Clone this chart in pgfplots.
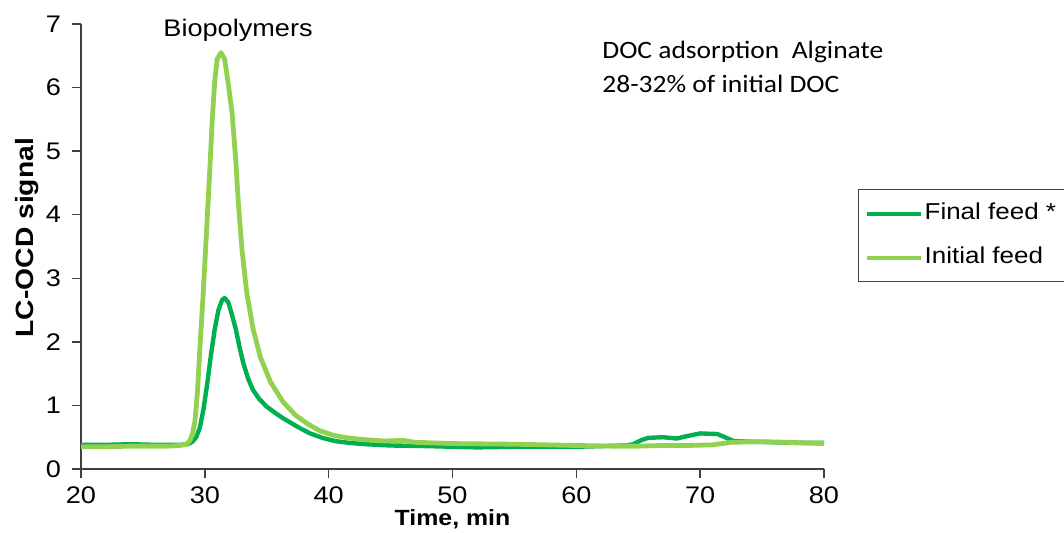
\documentclass[border=0pt]{standalone}
\usepackage{pgfplots}
\pgfplotsset{compat=1.18}
\usepackage{fontspec}
\setmainfont{Liberation Sans}[FakeStretch=1.13]
\newfontfamily\calib{Carlito}[FakeStretch=1.1]
\definecolor{dgreen}{HTML}{00B050}
\definecolor{lgreen}{HTML}{92D050}
\definecolor{axgray}{HTML}{404040}
\begin{document}
\begin{tikzpicture}
\begin{axis}[
  at={(40.5pt,31.5pt)}, anchor=south west,
  scale only axis, width=371.5pt, height=222.5pt,
  xmin=20, xmax=80, ymin=0, ymax=7,
  xtick={20,30,...,80}, ytick={0,1,...,7},
  axis x line=bottom, axis y line=left,
  axis line style={-, draw=axgray, line width=0.75pt},
  tick style={draw=axgray, line width=0.75pt},
  tick align=outside, major tick length=4.5pt,
  /pgf/number format/assume math mode=true,
  ticklabel style={font=\fontsize{12}{14}\selectfont},
  xticklabel style={yshift=-1pt},
  yticklabel style={xshift=-2pt},
  xlabel={\bfseries Time, min},
  xlabel style={font=\fontsize{11}{13}\selectfont, at={(axis description cs:0.5,-0.1265)}, anchor=base},
  ylabel={\bfseries LC-OCD signal},
  ylabel style={font=\fontsize{12.5}{14}\selectfont, at={(axis description cs:-0.0727,0.52)}, anchor=center},
  clip=false,
  legend style={at={(1.0458,0.629)}, anchor=north west, draw=axgray, line width=0.6pt,
    font=\fontsize{11.5}{13}\selectfont, inner xsep=3pt, inner ysep=4pt, row sep=6pt,
    nodes={text height=9pt, text depth=3pt, inner ysep=2pt, inner xsep=1pt}},
  legend cell align=left,
  legend image code/.code={\draw[#1, line width=2pt] (0pt,0pt) -- (27pt,0pt);},
]
\addplot[dgreen, line width=2.2pt, line join=round] coordinates {
(20,0.38) (22,0.38) (24,0.39) (26,0.38) (28,0.38) (28.6,0.39) (29.0,0.43) (29.3,0.5) (29.6,0.65) (29.9,0.95) (30.2,1.35) (30.5,1.8) (30.8,2.2) (31.1,2.5) (31.4,2.66) (31.6,2.69) (31.9,2.62) (32.2,2.42) (32.5,2.2) (32.8,1.92) (33.1,1.67) (33.5,1.42) (33.9,1.24) (34.4,1.1) (35.0,0.98) (35.7,0.88) (36.3,0.8) (37,0.72) (37.7,0.64) (38.5,0.56) (39.5,0.49) (40.5,0.44) (41.7,0.41) (43,0.39) (45,0.37) (48,0.36) (50,0.35) (52,0.34) (55,0.35) (58,0.35) (60,0.35) (62,0.36) (64,0.37) (64.6,0.39) (65.2,0.45) (65.8,0.49) (67,0.5) (68.1,0.48) (69,0.52) (70,0.56) (71.4,0.55) (72,0.50) (72.7,0.44) (74,0.43) (76,0.42) (78,0.41) (80,0.41)
};
\addlegendentry{Final feed *}
\addplot[lgreen, line width=2.4pt, line join=round] coordinates {
(20,0.35) (22,0.35) (24,0.36) (26,0.36) (27,0.36) (28,0.37) (28.5,0.39) (28.8,0.45) (29.0,0.55) (29.2,0.75) (29.4,1.2) (29.6,1.9) (29.85,2.7) (30.1,3.6) (30.4,4.7) (30.6,5.5) (30.8,6.1) (31.0,6.45) (31.3,6.55) (31.6,6.45) (31.9,6.05) (32.2,5.6) (32.5,4.85) (32.7,4.2) (33.0,3.45) (33.4,2.75) (33.9,2.2) (34.5,1.75) (35.3,1.37) (36.3,1.06) (37.3,0.85) (38.3,0.71) (39.3,0.6) (40.4,0.53) (41.5,0.49) (43,0.46) (44.5,0.44) (46,0.45) (47,0.42) (50,0.40) (55,0.39) (60,0.37) (63,0.36) (65,0.36) (67,0.37) (69,0.37) (71,0.38) (72.5,0.42) (75,0.43) (77,0.42) (80,0.40)
};
\addlegendentry{Initial feed}
\node[anchor=base, font=\fontsize{12}{14}\selectfont] at (axis cs:32.68,6.80) {Biopolymers};
\node[anchor=base west, inner sep=0pt, font=\calib\fontsize{12.5}{15}\selectfont] at (axis cs:62.07,6.465) {DOC adsorption\ \ Alginate};
\node[anchor=base west, inner sep=0pt, font=\calib\fontsize{12.5}{15}\selectfont] at (axis cs:62.07,5.915) {28-32\% of initial DOC};
\end{axis}
\pgfresetboundingbox
\path[use as bounding box] (0,0) rectangle (532pt,266pt);
\end{tikzpicture}
\end{document}
